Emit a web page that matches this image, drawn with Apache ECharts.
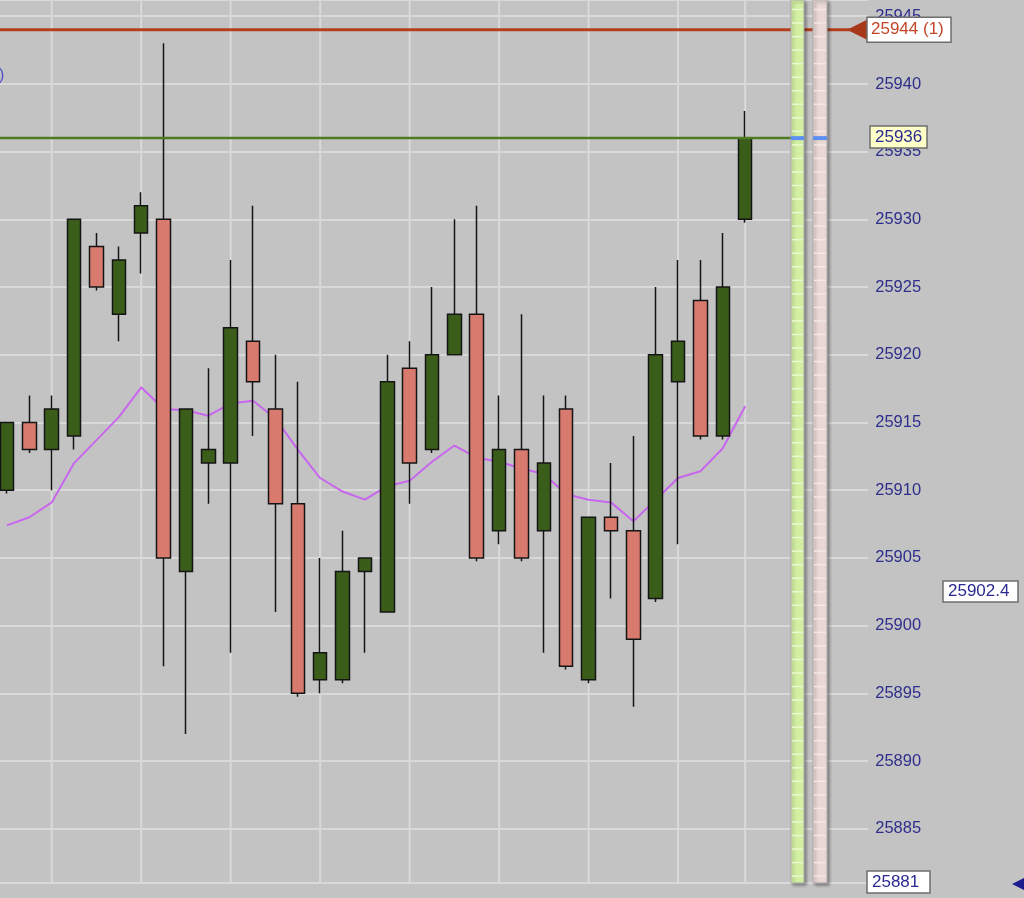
<!DOCTYPE html>
<html>
<head>
<meta charset="utf-8">
<script src="https://cdn.jsdelivr.net/npm/echarts@6/dist/echarts.min.js"></script>
<style>
html,body{margin:0;padding:0;background:#c3c3c3;overflow:hidden}
#main{width:1024px;height:898px}
</style>
</head>
<body>
<div id="main"></div>
<script>
// ---- data ----
const categories = ['1','2','3','4','5','6','7','8','9','10','11','12','13','14','15','16','17','18','19','20','21','22','23','24','25','26','27','28','29','30','31','32','33','34','35','36','37','38','39'];
const openPrices  = [25910,25915,25913,25914,25928,25923,25929,25930,25904,25912,25912,25921,25916,25909,25896,25896,25904,25901,25919,25913,25920,25923,25907,25913,25907,25916,25896,25908,25907,25902,25918,25924,25914,25930];
const closePrices = [25915,25913,25916,25930,25925,25927,25931,25905,25916,25913,25922,25918,25909,25895,25898,25904,25905,25918,25912,25920,25923,25905,25913,25905,25912,25897,25908,25907,25899,25920,25921,25914,25925,25936];
const lowPrices   = [25909.75,25912.75,25910,25913,25924.75,25921,25926,25897,25892,25909,25898,25914,25901,25894.75,25895,25895.75,25898,25901,25909,25912.75,25920,25904.75,25906,25904.75,25898,25896.75,25895.75,25902,25894,25901.75,25906,25913.75,25913.75,25929.75];
const highPrices  = [25915,25917,25917,25930,25929,25928,25932,25943,25916,25919,25927,25931,25920,25918,25905,25907,25905,25920,25921,25925,25930,25931,25917,25923,25917,25917,25908,25912,25914,25925,25927,25927,25929,25938];
const maValues    = [25907.4,25908.0,25909.1,25912.0,25913.7,25915.4,25917.6,25916.0,25915.9,25915.5,25916.4,25916.6,25915.3,25913.0,25910.9,25909.9,25909.3,25910.3,25910.7,25912.1,25913.3,25912.4,25912.1,25911.6,25911.2,25909.7,25909.3,25909.1,25907.7,25909.3,25910.9,25911.4,25913.1,25916.2];
const vGridBars   = [2,6,10,14,18,22,26,30,33];
const levelPrices = [25944, 25936];
const tagPrices   = [25944, 25936, 25902.4, 25881];
const tagTexts    = ['25944 (1)', '25936', '25902.4', '25881'];
const lastPrice   = 25936;
const yMin = 25881, yMax = 25946.2;

// ---- styles / layout (not data) ----
const FONT = '"Liberation Sans", Arial, sans-serif';
const levelStyles = [
  {stroke:'#b3401d', lineWidth:3, xEnd:850},
  {stroke:'#4d7b22', lineWidth:2.5, xEnd:791}
];
const tagStyles = [
  {x:867, w:84, h:25, dy:0,    tx:4, fill:'#ffffff', color:'#c4452a', arrow:'#a8381a'},
  {x:870, w:57, h:22, dy:-1,   tx:5, fill:'#ffffc8', color:'#2a2a90'},
  {x:943, w:75, h:21, dy:-1.6, tx:5, fill:'#ffffff', color:'#2a2a90'},
  {x:867, w:63, h:22, dy:-1,   tx:5, fill:'#ffffff', color:'#2a2a90', marker:'#1c1c8c'}
];
const strips = [
  {x:791, w:13, fill:'#d3f0a2', sep:'#e9f9cf'},
  {x:813, w:14, fill:'#ead8d4', sep:'#f4e9e6'}
];

const candleData = openPrices.map((o, i) => [o, closePrices[i], lowPrices[i], highPrices[i]]);

const chart = echarts.init(document.getElementById('main'), null, {renderer:'canvas'});
const option = {
  backgroundColor: '#c3c3c3',
  animation: false,
  grid: {left: -4.2, top: 0, width: 872.4, height: 882.9, containLabel: false, outerBoundsMode: 'none'},
  xAxis: {
    type: 'category', data: categories, boundaryGap: true,
    axisLine: {show:false}, axisTick: {show:false}, axisLabel: {show:false}, splitLine: {show:false}
  },
  yAxis: {
    type: 'value', position: 'right', min: yMin, max: yMax, scale: true,
    splitNumber: 13, minInterval: 5, maxInterval: 5,
    axisLine: {show:false}, axisTick: {show:false},
    axisLabel: {color:'#2e2e8c', fontSize:16.5, fontFamily:FONT, margin:7, align:'left',
                showMinLabel:false, showMaxLabel:false,
                formatter: function (v) { return String(v); }},
    splitLine: {show:true, lineStyle:{color:'#d9d9d9', width:2}}
  },
  graphic: [
    {type:'text', x:-1, y:68, style:{text:')', fill:'#5050c8', font:'16px ' + FONT}}
  ],
  series: [
    {
      type: 'custom', z: 1, silent: true,
      data: vGridBars.map(b => [b, yMin]),
      encode: {x:0, y:1},
      renderItem: function (params, api) {
        const top = api.coord([api.value(0), yMax]);
        const bot = api.coord([api.value(0), yMin]);
        return {type:'line', shape:{x1:top[0], y1:top[1], x2:bot[0], y2:bot[1]},
                style:{stroke:'#d9d9d9', lineWidth:2}};
      }
    },
    {
      type: 'line', z: 2, data: maValues, symbol: 'none', silent: true,
      lineStyle: {color:'#c866ee', width:2}
    },
    {
      type: 'candlestick', z: 3, data: candleData, barWidth: 14,
      itemStyle: {color:'#3b5d1a', color0:'#d87b6e', borderColor:'#141414', borderColor0:'#141414', borderWidth:1.5}
    },
    {
      type: 'custom', z: 4, silent: true, clip: false,
      data: levelPrices.map((p, i) => [0, p, i]),
      encode: {x:0, y:1},
      renderItem: function (params, api) {
        const i = api.value(2);
        const y = api.coord([0, api.value(1)])[1];
        const st = levelStyles[i];
        return {type:'line', shape:{x1:params.coordSys.x, y1:y, x2:st.xEnd, y2:y},
                style:{stroke:st.stroke, lineWidth:st.lineWidth}};
      }
    },
    {
      type: 'custom', z: 5, silent: true, clip: false,
      data: [[0, yMin]],
      encode: {x:0, y:1},
      renderItem: function (params, api) {
        const yTop = api.coord([0, yMax])[1];
        const yBot = api.coord([0, yMin])[1];
        const yLast = api.coord([0, lastPrice])[1];
        const children = [];
        strips.forEach(s => {
          children.push({type:'rect', shape:{x:s.x, y:yTop, width:s.w, height:yBot - yTop},
            style:{fill:s.fill, stroke:'#b0b0b0', lineWidth:1,
                   shadowColor:'rgba(0,0,0,0.35)', shadowBlur:3, shadowOffsetX:2, shadowOffsetY:2}});
          for (let p = Math.ceil(yMin); p <= yMax; p++) {
            const y = api.coord([0, p + 0.5])[1];
            if (y <= yTop || y >= yBot) continue;
            children.push({type:'line', shape:{x1:s.x + 1, y1:y, x2:s.x + s.w - 1, y2:y},
              style:{stroke:s.sep, lineWidth:1.5}});
          }
          children.push({type:'rect', shape:{x:s.x, y:yLast - 2, width:s.w, height:4},
            style:{fill:'#5b8ff0'}});
        });
        return {type:'group', children: children};
      }
    },
    {
      type: 'custom', z: 6, silent: true, clip: false,
      data: tagPrices.map((p, i) => [0, p, i]),
      encode: {x:0, y:1},
      renderItem: function (params, api) {
        const i = api.value(2);
        const st = tagStyles[i];
        const yc = api.coord([0, api.value(1)])[1] + st.dy;
        const children = [];
        if (st.arrow) {
          children.push({type:'polygon', shape:{points:[[st.x - 20, yc], [st.x + 1, yc - 10.5], [st.x + 1, yc + 10.5]]},
            style:{fill:st.arrow}});
        }
        children.push({type:'rect', shape:{x:st.x, y:yc - st.h / 2, width:st.w, height:st.h},
          style:{fill:st.fill, stroke:'#6e6e6e', lineWidth:1.5}});
        children.push({type:'text', x:st.x + st.tx, y:yc,
          style:{text:tagTexts[i], fill:st.color, font:'17px ' + FONT, align:'left', verticalAlign:'middle',
                 textAlign:'left', textVerticalAlign:'middle'}});
        if (st.marker) {
          children.push({type:'polygon', shape:{points:[[1012, yc + 2], [1026, yc - 5], [1026, yc + 9]]},
            style:{fill:st.marker}});
        }
        return {type:'group', children: children};
      }
    }
  ]
};
chart.setOption(option);
</script>
</body>
</html>
